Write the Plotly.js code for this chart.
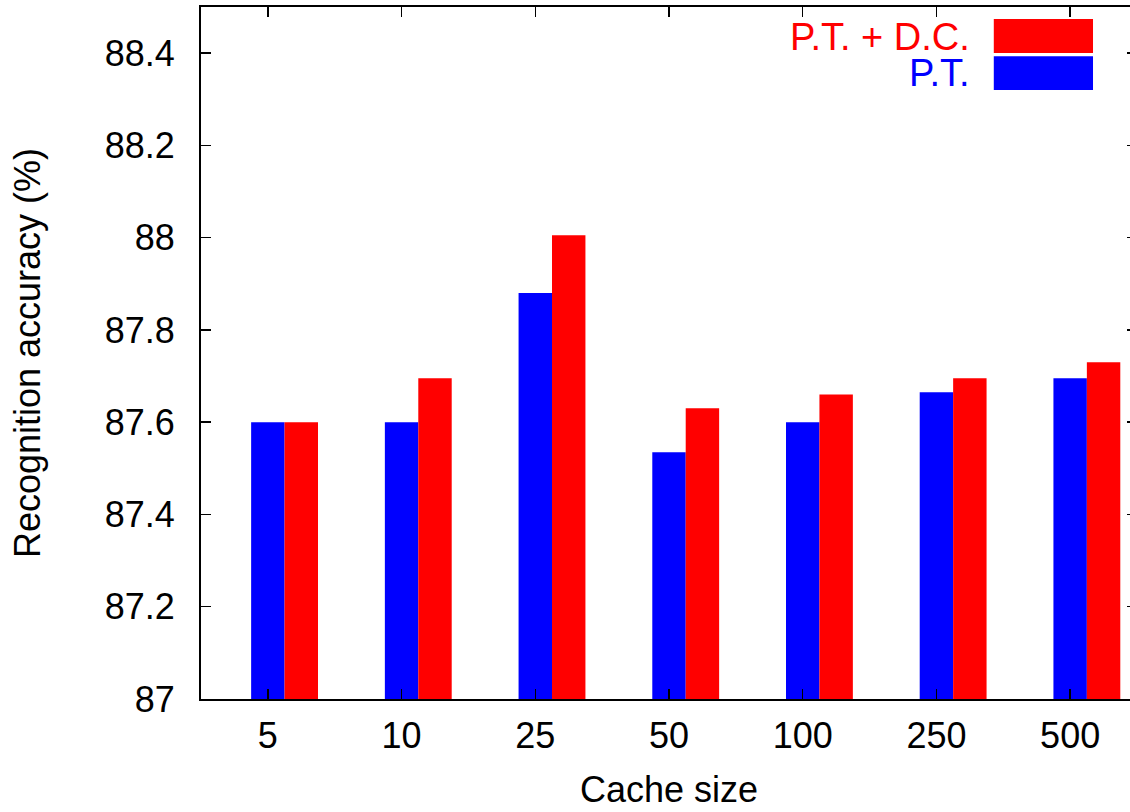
<!DOCTYPE html>
<html>
<head>
<meta charset="utf-8">
<script src="https://cdn.plot.ly/plotly-3.0.1.min.js"></script>
<style>
html, body { margin: 0; padding: 0; overflow: hidden; background: #fff; }
#chart { width: 1140px; height: 812px; }
</style>
</head>
<body>
<div id="chart"></div>
<script>
const categories = ["5", "10", "25", "50", "100", "250", "500"];
const ptValues = [87.60, 87.60, 87.88, 87.535, 87.60, 87.665, 87.695];
const ptdcValues = [87.60, 87.695, 88.005, 87.63, 87.66, 87.695, 87.73];
const seriesNames = ["P.T.", "P.T. + D.C."];
const yTicks = [87, 87.2, 87.4, 87.6, 87.8, 88, 88.2, 88.4];

const FONT = "Liberation Sans, Arial, sans-serif";
const BLUE = "#0000ff";
const RED = "#ff0000";
const BAR_W = 0.25;

const traces = [
  { type: "bar", name: seriesNames[0], x: categories, y: ptValues,
    width: BAR_W, offset: -BAR_W / 2,
    marker: { color: BLUE, line: { width: 0 } }, showlegend: false },
  { type: "bar", name: seriesNames[1], x: categories, y: ptdcValues,
    width: BAR_W, offset: BAR_W / 2,
    marker: { color: RED, line: { width: 0 } }, showlegend: false }
];

const layout = {
  width: 1140, height: 812,
  margin: { l: 201, r: 3, t: 7, b: 113, pad: 0 },
  paper_bgcolor: "#fff", plot_bgcolor: "#fff",
  font: { family: FONT, size: 36, color: "#000" },
  barmode: "overlay",
  xaxis: {
    type: "category", range: [-0.5, 6.5],
    showline: true, linecolor: "#000", linewidth: 2, mirror: "ticks",
    ticks: "inside", ticklen: 10, tickwidth: 1.5, tickcolor: "#000",
    showgrid: false, zeroline: false,
    tickfont: { family: FONT, size: 36, color: "#000" },
    ticklabelstandoff: 4,
    title: { text: "Cache size", font: { family: FONT, size: 36, color: "#000" }, standoff: 22 }
  },
  yaxis: {
    range: [87, 88.5], tickvals: yTicks,
    ticktext: yTicks.map(v => String(+v.toFixed(1))),
    showline: true, linecolor: "#000", linewidth: 2, mirror: "ticks",
    ticks: "inside", ticklen: 10, tickwidth: 1.5, tickcolor: "#000",
    showgrid: false, zeroline: false,
    tickfont: { family: FONT, size: 36, color: "#000" },
    ticklabelstandoff: 17,
    title: { text: "Recognition accuracy (%)", font: { family: FONT, size: 36, color: "#000" }, standoff: 53 }
  },
  shapes: [
    { type: "rect", xref: "paper", yref: "paper", x0: 0.847, x1: 0.953, y0: 0.9335, y1: 0.9827,
      fillcolor: RED, line: { width: 0 } },
    { type: "rect", xref: "paper", yref: "paper", x0: 0.847, x1: 0.953, y0: 0.880, y1: 0.929,
      fillcolor: BLUE, line: { width: 0 } }
  ],
  annotations: [
    { xref: "paper", yref: "paper", x: 0.824, y: 0.9566, xanchor: "right", yanchor: "middle",
      text: seriesNames[1], showarrow: false, font: { family: FONT, size: 38, color: RED } },
    { xref: "paper", yref: "paper", x: 0.824, y: 0.9046, xanchor: "right", yanchor: "middle",
      text: seriesNames[0], showarrow: false, font: { family: FONT, size: 38, color: BLUE } }
  ]
};

Plotly.newPlot("chart", traces, layout, { displayModeBar: false, staticPlot: true });
</script>
</body>
</html>
